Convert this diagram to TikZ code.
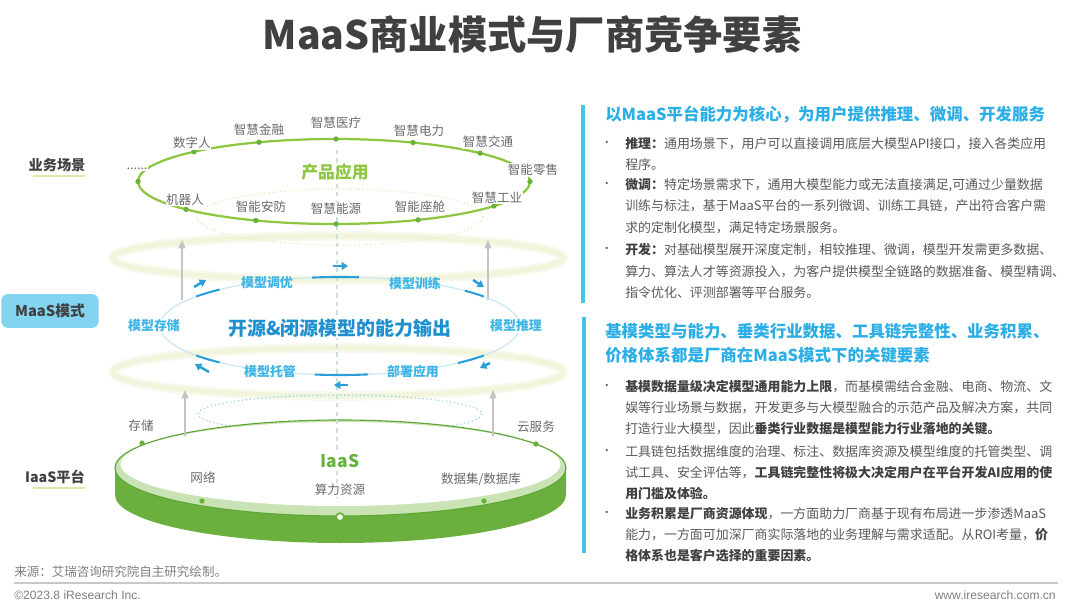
\documentclass[tikz,border=0pt]{standalone}
\usepackage{fontspec}
\setmainfont{Noto Sans CJK SC}
\newfontfamily\latfont{Liberation Sans}
\usetikzlibrary{arrows.meta}
\definecolor{grigioT}{HTML}{595959}
\definecolor{grigioS}{HTML}{404040}
\definecolor{verdeE}{HTML}{8DC63F}
\definecolor{verdeP}{HTML}{6AB23E}
\definecolor{verdeD}{HTML}{5DA634}
\definecolor{verdeL}{HTML}{C9E3B4}
\definecolor{verdeS}{HTML}{6BAF3F}
\definecolor{paglia}{HTML}{F1F5DC}
\definecolor{pagliaD}{HTML}{DCE8B0}
\definecolor{celeste}{HTML}{C4E6F7}
\definecolor{celesteP}{HTML}{8CCDF0}
\definecolor{bluS}{HTML}{2A9FD9}
\definecolor{bluL}{HTML}{3CB5E6}
\definecolor{bluC}{HTML}{1E90D0}
\definecolor{bluH}{HTML}{2BAEE5}
\definecolor{barra}{HTML}{45C3EC}
\definecolor{maasF}{HTML}{82D4F1}
\definecolor{frecciaG}{HTML}{C4C4C4}
\definecolor{tratteggio}{HTML}{C9E0DB}
\definecolor{linea}{HTML}{C8C8C8}
\definecolor{piede}{HTML}{7F7F7F}
\newcommand{\neretto}[1]{\textbf{\color{grigioS}#1}}

\begin{document}
\begin{tikzpicture}[
  x=0.025cm, y=-0.025cm,
  font=\fontsize{8.9}{11}\selectfont,
  etich/.style={text=grigioT!90, inner sep=0pt, font=\fontsize{8.9}{11}\selectfont},
  gdot/.style={circle, fill=verdeP, inner sep=0pt, minimum size=3.8pt},
  blulab/.style={text=bluL, font=\bfseries\fontsize{9.2}{11}\selectfont, inner sep=0.8pt},
  sinistra/.style={text=grigioS, font=\bfseries\fontsize{10.1}{12}\selectfont, inner sep=0pt},
  glow/.style={draw=paglia, line width=3.5pt},
  blusg/.style={draw=bluS, line width=1.5pt},
  bluar/.style={draw=bluS, line width=1.8pt, -{Triangle[length=4.5pt,width=5.5pt]}},
  grar/.style={draw=frecciaG, line width=1pt, -{Triangle[length=6pt,width=5pt]}},
  uline/.style={draw=pagliaD, line width=1pt},
  testata/.style={anchor=west, align=left, inner sep=0pt, text=bluH,
                  font=\bfseries\fontsize{11.7}{16.5}\selectfont},
  corpo/.style={anchor=north west, align=left, inner sep=0pt, text=grigioT,
                font=\fontsize{9.2}{15}\selectfont},
  punto/.style={text=grigioT, inner sep=0pt, font=\fontsize{7.5}{8}\selectfont},
  barretta/.style={draw=barra, line width=2.5pt}
]
\useasboundingbox (0,0) rectangle (1080,611);

%--------------------------------------------------------------
% Titolo
%--------------------------------------------------------------
\node[text=grigioS, font=\bfseries\fontsize{27.9}{34}\selectfont, inner sep=0pt]
  (titolo) at (532,35) {MaaS商业模式与厂商竞争要素};

%--------------------------------------------------------------
% Anelli di sfondo
%--------------------------------------------------------------
\draw[draw=paglia!50, line width=7pt] (338,258) ellipse[x radius=225, y radius=22];
\draw[glow] (338,258) ellipse[x radius=225, y radius=22];
\draw[draw=paglia!50, line width=7pt] (338,372) ellipse[x radius=225, y radius=24];
\draw[glow] (338,372) ellipse[x radius=225, y radius=24];
\draw[draw=pagliaD, dotted, line width=0.8pt] (340,217) ellipse[x radius=143, y radius=28];
\draw[draw=celesteP, dotted, line width=0.8pt] (340,414) ellipse[x radius=142, y radius=19];

%--------------------------------------------------------------
% Piattaforma IaaS
%--------------------------------------------------------------
\fill[verdeS] (115,468) -- (115,495)
  arc[start angle=180, end angle=0, x radius=225.5, y radius=48] -- (566,468)
  arc[start angle=0, end angle=180, x radius=225.5, y radius=48] -- cycle;
\fill[verdeL] (340.5,468) ellipse[x radius=225.5, y radius=48];
\fill[white] (340.5,464) ellipse[x radius=220, y radius=42];
\draw[draw=verdeD, line width=0.8pt] (340.5,468) ellipse[x radius=225.5, y radius=48];

% asse centrale
\draw[draw=tratteggio, dashed, line width=0.8pt] (337,150) -- (337,498);

%--------------------------------------------------------------
% Frecce grigie verso l'alto
%--------------------------------------------------------------
\foreach \xa/\ya/\yb in {182/300/240, 488/300/240, 185/436/390, 493/436/390}
  \draw[grar] (\xa,\ya) -- (\xa,\yb);

%--------------------------------------------------------------
% Anello prodotti
%--------------------------------------------------------------
\draw[draw=verdeE, line width=1.6pt] (334,181.5) ellipse[x radius=196, y radius=42.5];
\foreach \n/\a/\lx/\ly/\t in {%
  1/180/137/169/{......},
  2/224.4/192/143/数字人,
  3/247.5/259/130/智慧金融,
  4/270.6/336/123/智慧医疗,
  5/293.8/419/131/智慧电力,
  6/318.2/488/142/智慧交通,
  7/360/533/170/智能零售,
  8/35.3/497/198/智慧工业,
  9/64.6/420/207/智能座舱,
  10/89.4/336/209/智慧能源,
  11/113.5/261/207/智能安防,
  12/139/185/200/机器人}{
  \node[gdot] (d\n) at ({334+196*cos(\a)},{181.5+42.5*sin(\a)}) {};
  \node[etich, fill=white, inner sep=0.5pt] (app\n) at (\lx,\ly) {\t};
}
\node[text=verdeE, font=\bfseries\fontsize{12}{14}\selectfont, inner sep=0pt]
  (prodotto) at (335,172) {产品应用};

%--------------------------------------------------------------
% Anello MaaS
%--------------------------------------------------------------
\draw[draw=celeste, line width=0.8pt] (340,326) ellipse[x radius=180, y radius=49];
\foreach \a/\b in {-99/-84, -143/-132, -46/-37, 132/143, 37/49, 81/98}
  \draw[blusg] plot[domain=\a:\b, samples=12] ({340+180*cos(\x)},{326+49*sin(\x)});
\foreach \xa/\ya/\xb/\yb in {333/266/348/266, 194/287/206/280, 473/280/484/287,
                             490/363/480/368, 209/372/195/364, 348/385/334/385}
  \draw[bluar] (\xa,\ya) -- (\xb,\yb);

\node[blulab] (tuning) at (267,283) {模型调优};
\node[blulab] (train)  at (415,283) {模型训练};
\node[blulab, fill=white] (store) at (154,326) {模型存储};
\node[blulab, fill=white] (infer) at (516,326) {模型推理};
\node[blulab] (host)   at (270,372) {模型托管};
\node[blulab] (deploy) at (413,372) {部署应用};
\node[text=bluC, font=\bfseries\fontsize{13.5}{16}\selectfont, fill=white, inner sep=0.5pt]
  (centro) at (340,328) {开源\&闭源模型的能力输出};

%--------------------------------------------------------------
% Punti della piattaforma IaaS
%--------------------------------------------------------------
\foreach \n/\dx/\dy/\lx/\ly/\t in {%
  1/142/443/141/426/存储,
  2/536/444/536/427/云服务,
  3/202/501/203/478/网络,
  5/484/501/481/479/{数据集/数据库}}{
  \node[gdot] (p\n) at (\dx,\dy) {};
  \node[etich] (res\n) at (\lx,\ly) {\t};
}
\node[circle, draw=verdeP, fill=white, line width=1.2pt, inner sep=0pt,
      minimum size=5.5pt] (p4) at (340,517) {};
\node[etich, fill=white, inner sep=0.5pt] (res4) at (340,490) {算力资源};
\node[text=verdeP, font=\bfseries\fontsize{12.4}{14}\selectfont, fill=white, inner sep=0.5pt]
  (iaas) at (340,461) {IaaS};

%--------------------------------------------------------------
% Etichette a sinistra
%--------------------------------------------------------------
\node[sinistra] (lbiz) at (57,165) {业务场景};
\draw[uline] (33,176) -- (85,176);
\node[rounded corners=4pt, fill=maasF, minimum width=69pt, minimum height=24pt,
      text=grigioS, font=\bfseries\fontsize{10.5}{12}\selectfont] (lmaas) at (50,311) {MaaS模式};
\node[sinistra] (liaas) at (55,477) {IaaS平台};
\draw[uline] (33,488) -- (85,488);

%--------------------------------------------------------------
% Pannello di destra
%--------------------------------------------------------------
\draw[barretta] (583,105) -- (583,303);
\draw[barretta] (584,317) -- (584,553);

\node[testata] (hp1) at (605,115) {以MaaS平台能力为核心，为用户提供推理、微调、开发服务};
\node[testata] (hp2) at (605,343.3)
  {基模类型与能力、垂类行业数据、工具链完整性、业务积累、\\价格体系都是厂商在MaaS模式下的关键要素};

\foreach \y/\testo in {%
  137/{\neretto{推理：}通用场景下，用户可以直接调用底层大模型API接口，接入各类应用\\程序。},
  178.5/{\neretto{微调：}特定场景需求下，通用大模型能力或无法直接满足,可通过少量数据\\训练与标注，基于MaaS平台的一系列微调、训练工具链，产出符合客户需\\求的定制化模型，满足特定场景服务。},
  243.5/{\neretto{开发：}对基础模型展开深度定制，相较推理、微调，模型开发需更多数据、\\算力、算法人才等资源投入，为客户提供模型全链路的数据准备、模型精调、\\指令优化、评测部署等平台服务。},
  380/{\neretto{基模数据量级决定模型通用能力上限}，而基模需结合金融、电商、物流、文\\娱等行业场景与数据，开发更多与大模型融合的示范产品及解决方案，共同\\打造行业大模型，因此\neretto{垂类行业数据是模型能力行业落地的关键。}},
  445/{工具链包括数据维度的治理、标注、数据库资源及模型维度的托管类型、调\\试工具、安全评估等，\neretto{工具链完整性将极大决定用户在平台开发AI应用的使}\\\neretto{用门槛及体验。}},
  507/{\neretto{业务积累是厂商资源体现}，一方面助力厂商基于现有布局进一步渗透MaaS\\能力，一方面可加深厂商实际落地的业务理解与需求适配。从ROI考量，\neretto{价}\\\neretto{格体系也是客户选择的重要因素。}}}{
  \node[punto] at (607,\y+6.5) {•};
  \node[corpo] at (625,\y) {\testo};
}

%--------------------------------------------------------------
% Piede
%--------------------------------------------------------------
\node[anchor=west, text=piede, inner sep=0pt, font=\fontsize{8.9}{10}\selectfont]
  (fonte) at (14,571.7) {来源：艾瑞咨询研究院自主研究绘制。};
\draw[draw=linea, line width=1pt] (14,583) -- (1058,583);
\node[anchor=west, text=piede, inner sep=0pt, font=\latfont\fontsize{8.6}{10}\selectfont]
  (copy) at (14,595.5) {©2023.8 iResearch Inc.};
\node[anchor=east, text=piede, inner sep=0pt, font=\latfont\fontsize{8.6}{10}\selectfont]
  (sito) at (1056,595.5) {www.iresearch.com.cn};

\end{tikzpicture}
\end{document}
